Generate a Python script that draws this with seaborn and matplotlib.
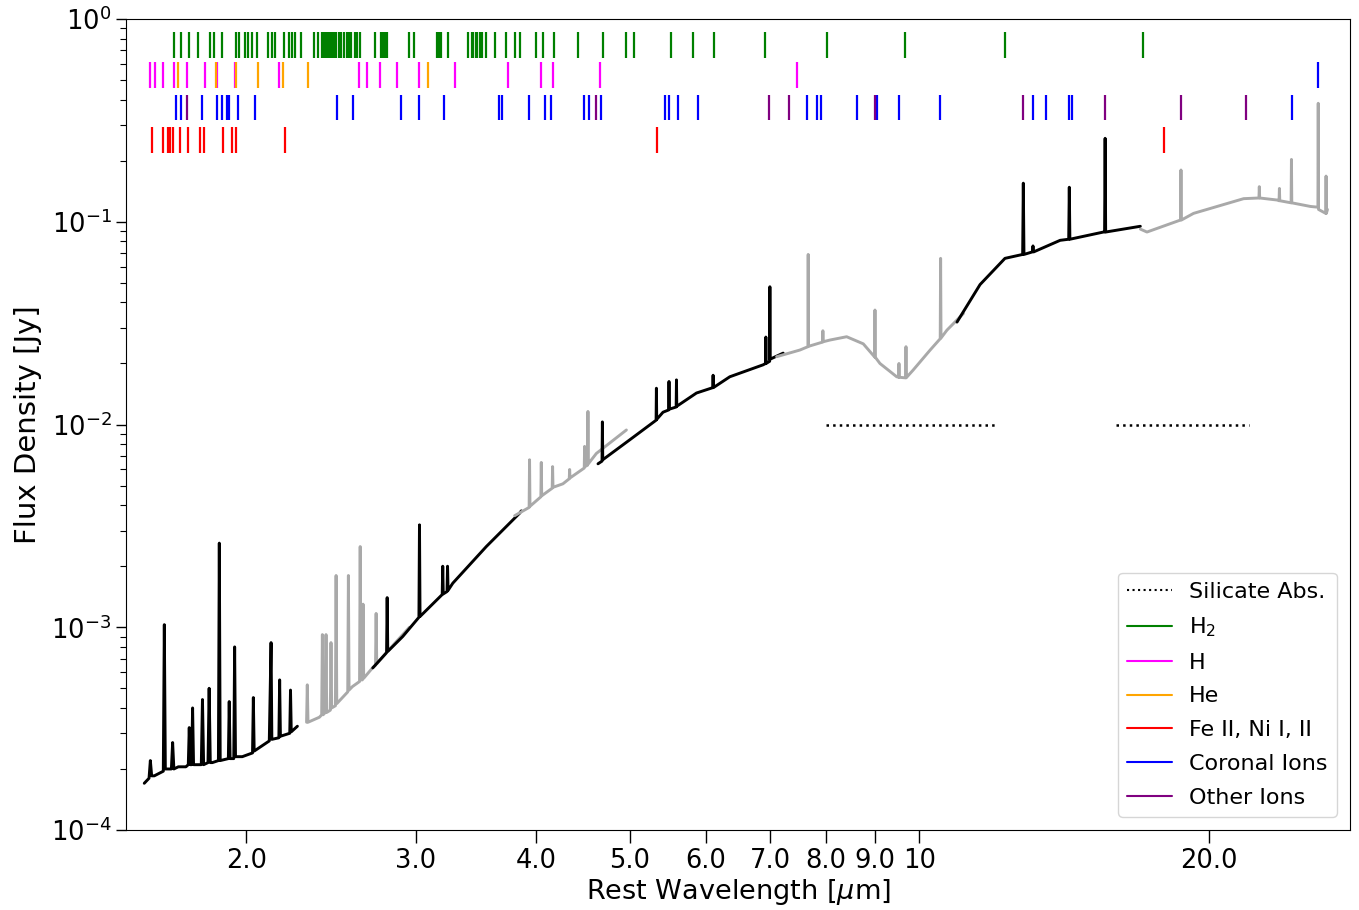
import numpy as np
import pandas as pd
import seaborn as sns
import matplotlib.pyplot as plt
from matplotlib.lines import Line2D
from matplotlib.ticker import FixedLocator, FixedFormatter, NullLocator, LogLocator

sns.set_style("ticks")
plt.rcParams["font.family"] = ["DejaVu Sans"]
plt.rcParams["text.color"] = "black"
plt.rcParams["axes.labelcolor"] = "black"
plt.rcParams["xtick.color"] = "black"
plt.rcParams["ytick.color"] = "black"
plt.rcParams["axes.edgecolor"] = "black"

# spectrum segments (wavelength in um, flux in Jy)
w1 = [1.567, 1.585, 1.590, 1.595, 1.605, 1.640, 1.644, 1.648, 1.672, 1.677, 1.682, 1.700, 1.731,
      1.741, 1.745, 1.749, 1.755, 1.759, 1.763, 1.796, 1.801, 1.806, 1.825, 1.830, 1.835, 1.844,
      1.871, 1.875, 1.879, 1.916, 1.920, 1.924, 1.941, 1.945, 1.949, 1.981, 2.030, 2.034, 2.038,
      2.113, 2.122, 2.126, 2.162, 2.166, 2.170, 2.219, 2.223, 2.227, 2.260]
f1 = [1.70e-4, 1.80e-4, 2.2e-4, 1.85e-4, 1.85e-4, 1.95e-4, 1.03e-3, 2.0e-4, 2.0e-4, 2.7e-4, 2.0e-4, 2.05e-4, 2.05e-4,
      2.1e-4, 3.2e-4, 2.1e-4, 2.1e-4, 4.0e-4, 2.1e-4, 2.1e-4, 4.4e-4, 2.1e-4, 2.15e-4, 5.0e-4, 2.15e-4, 2.15e-4,
      2.2e-4, 2.6e-3, 2.2e-4, 2.25e-4, 4.3e-4, 2.25e-4, 2.25e-4, 8.0e-4, 2.3e-4, 2.3e-4, 2.4e-4, 4.5e-4, 2.45e-4,
      2.75e-4, 8.4e-4, 2.8e-4, 2.85e-4, 5.5e-4, 2.9e-4, 3.0e-4, 4.9e-4, 3.05e-4, 3.25e-4]

w2 = [2.310, 2.314, 2.318, 2.382, 2.395, 2.399, 2.403, 2.416, 2.420, 2.424, 2.445, 2.449, 2.453,
      2.475, 2.479, 2.483, 2.549, 2.553, 2.557, 2.578, 2.622, 2.626, 2.630, 2.640, 2.644, 2.648,
      2.704, 2.724, 2.728, 2.732, 2.850, 2.954]
f2 = [3.4e-4, 5.2e-4, 3.4e-4, 3.6e-4, 3.7e-4, 9.2e-4, 3.7e-4, 3.8e-4, 9.2e-4, 3.8e-4, 3.9e-4, 8.4e-4, 4.0e-4,
      4.1e-4, 1.8e-3, 4.2e-4, 4.8e-4, 1.8e-3, 4.9e-4, 5.1e-4, 5.4e-4, 2.5e-3, 5.5e-4, 5.5e-4, 1.3e-3, 5.6e-4,
      6.3e-4, 6.5e-4, 1.17e-3, 6.6e-4, 8.3e-4, 1.0e-3]

w3 = [2.706, 2.797, 2.801, 2.805, 2.907, 3.022, 3.026, 3.030, 3.195, 3.199, 3.203, 3.232, 3.236, 3.240,
      3.277, 3.550, 3.844, 3.860]
f3 = [6.3e-4, 7.5e-4, 1.4e-3, 7.6e-4, 9.0e-4, 1.12e-3, 3.2e-3, 1.13e-3, 1.45e-3, 2.0e-3, 1.46e-3, 1.5e-3, 2.0e-3, 1.52e-3,
      1.65e-3, 2.5e-3, 3.65e-3, 3.75e-3]

w4 = [3.799, 3.933, 3.937, 3.941, 4.045, 4.049, 4.053, 4.156, 4.160, 4.164, 4.264, 4.329, 4.333, 4.337,
      4.487, 4.491, 4.495, 4.523, 4.527, 4.531, 4.619, 4.963]
f4 = [3.55e-3, 3.9e-3, 6.7e-3, 3.95e-3, 4.4e-3, 6.5e-3, 4.45e-3, 4.85e-3, 6.2e-3, 4.9e-3, 5.1e-3, 5.4e-3, 6.0e-3, 5.45e-3,
      6.1e-3, 7.8e-3, 6.2e-3, 6.3e-3, 1.16e-2, 6.4e-3, 7.2e-3, 9.4e-3]

w5 = [4.637, 4.682, 4.686, 4.690, 5.002, 5.328, 5.332, 5.336, 5.417, 5.491, 5.495, 5.499, 5.590, 5.594, 5.598,
      5.868, 6.102, 6.106, 6.110, 6.355, 6.882, 6.923, 6.927, 6.931, 6.990, 6.994, 6.998, 7.220]
f5 = [6.4e-3, 6.6e-3, 1.03e-2, 6.7e-3, 8.4e-3, 1.05e-2, 1.51e-2, 1.06e-2, 1.15e-2, 1.18e-2, 1.63e-2, 1.19e-2, 1.22e-2, 1.66e-2, 1.23e-2,
      1.43e-2, 1.52e-2, 1.75e-2, 1.52e-2, 1.72e-2, 1.97e-2, 2.0e-2, 2.7e-2, 2.0e-2, 2.05e-2, 4.78e-2, 2.1e-2, 2.25e-2]

w6 = [7.107, 7.514, 7.660, 7.665, 7.670, 7.934, 7.939, 7.944, 8.074, 8.403, 8.744, 8.987, 8.992, 8.997,
      9.100, 9.471, 9.518, 9.523, 9.528, 9.660, 9.679, 9.684, 9.689, 9.855, 10.26, 10.51, 10.52, 10.53,
      10.68, 11.11]
f6 = [2.16e-2, 2.33e-2, 2.42e-2, 6.9e-2, 2.43e-2, 2.55e-2, 2.9e-2, 2.56e-2, 2.61e-2, 2.71e-2, 2.5e-2, 2.15e-2, 3.67e-2, 2.15e-2,
      2.0e-2, 1.72e-2, 1.71e-2, 2.0e-2, 1.71e-2, 1.7e-2, 1.7e-2, 2.42e-2, 1.7e-2, 1.86e-2, 2.33e-2, 2.65e-2, 6.6e-2, 2.67e-2,
      2.92e-2, 3.53e-2]

w7 = [10.94, 11.56, 12.27, 12.80, 12.82, 12.84, 13.10, 13.12, 13.14, 14.00, 14.29, 14.31, 14.33,
      15.53, 15.57, 15.59, 15.61, 16.96]
f7 = [3.2e-2, 4.9e-2, 6.6e-2, 6.9e-2, 0.155, 6.9e-2, 7.1e-2, 7.6e-2, 7.1e-2, 8.1e-2, 8.2e-2, 0.148, 8.2e-2,
      8.9e-2, 8.9e-2, 0.258, 8.9e-2, 9.5e-2]

w8 = [16.96, 17.23, 18.67, 18.69, 18.71, 19.26, 21.71, 22.52, 22.54, 22.56, 23.52, 23.63, 23.65, 23.67,
      24.32, 24.34, 24.36, 25.47, 25.93, 25.95, 25.97, 26.42, 26.44, 26.46, 26.53]
f8 = [9.2e-2, 8.9e-2, 0.102, 0.18, 0.102, 0.11, 0.13, 0.131, 0.149, 0.131, 0.128, 0.127, 0.146, 0.127,
      0.124, 0.203, 0.124, 0.119, 0.118, 0.384, 0.115, 0.11, 0.168, 0.11, 0.115]

seg_colors = ["black", "darkgray", "black", "darkgray", "black", "darkgray", "black", "darkgray"]

# silicate absorption ranges
sil_lo = [8.0, 16.0]
sil_hi = [12.0, 22.0]
sil_level = 1e-2

# line lists (um)
h2_lines = [1.683, 1.712, 1.745, 1.783, 1.835, 1.853, 1.888, 1.953, 1.967, 1.995, 2.010, 2.029, 2.053,
            2.108, 2.128, 2.144, 2.190, 2.217, 2.233, 2.249, 2.281, 2.353, 2.376, 2.399, 2.411, 2.422,
            2.434, 2.445, 2.457, 2.469, 2.481, 2.499, 2.511, 2.529, 2.547, 2.559, 2.571, 2.596, 2.609,
            2.627, 2.723, 2.763, 2.776, 2.789, 2.803, 2.954, 2.990, 3.152, 3.167, 3.189, 3.236, 3.402,
            3.427, 3.443, 3.460, 3.476, 3.493, 3.510, 3.544, 3.621, 3.718, 3.799, 3.844, 3.994, 4.062,
            4.170, 4.417, 4.689, 4.954, 5.050, 5.518, 5.816, 6.116, 6.910, 8.016, 9.660, 12.27, 17.08]
h_lines = [1.588, 1.607, 1.637, 1.681, 1.734, 1.812, 1.863, 1.947, 2.161, 2.617, 2.670, 2.754, 2.869,
           3.021, 3.298, 3.738, 4.049, 4.163, 4.656, 7.455]
he_lines = [1.697, 1.860, 1.951, 2.055, 2.182, 2.316, 3.087]
fe_lines = [1.598, 1.637, 1.657, 1.667, 1.677, 1.708, 1.741, 1.792, 1.809, 1.893, 1.934, 1.953, 2.196,
            5.340, 17.96]
coronal_lines = [1.690, 1.711, 1.799, 1.863, 1.887, 1.910, 1.920, 1.959, 2.044, 2.483, 2.579, 2.896,
                 3.026, 3.205, 3.656, 3.682, 3.931, 4.086, 4.147, 4.484, 4.538, 4.675, 5.439, 5.495,
                 5.615, 5.890, 7.647, 7.821, 7.896, 8.619, 9.029, 9.530, 10.50, 13.12, 13.54, 14.31,
                 14.41, 24.38]
coronal_top = [25.95]
other_lines = [1.735, 4.619, 6.982, 7.324, 8.992, 12.82, 15.59, 18.70, 21.84]

xticks = [2, 3, 4, 5, 6, 7, 8, 9, 10, 20]
xticklabels = ["2.0", "3.0", "4.0", "5.0", "6.0", "7.0", "8.0", "9.0", "10", "20.0"]

# build table for seaborn
segs = [(w1, f1), (w2, f2), (w3, f3), (w4, f4), (w5, f5), (w6, f6), (w7, f7), (w8, f8)]
parts = []
for i, (w, f) in enumerate(segs):
    parts.append(pd.DataFrame({"wave": w, "flux": f, "seg": i}))
spec = pd.concat(parts, ignore_index=True)

fig = plt.figure(figsize=(13.59, 9.10), dpi=100)
ax = fig.add_axes([0.0927, 0.0879, 0.9007, 0.8912])

sns.lineplot(data=spec, x="wave", y="flux", hue="seg", palette=dict(enumerate(seg_colors)),
             estimator=None, sort=False, legend=False, lw=2.1, ax=ax)

for lo, hi in zip(sil_lo, sil_hi):
    ax.plot([lo, hi], [sil_level, sil_level], color="k", ls=":", lw=1.8)

# line markers in rows near the top
trans = ax.get_xaxis_transform()
rows = [(h2_lines, "green", 0.9515, 0.9843),
        (h_lines, "magenta", 0.9146, 0.9473),
        (he_lines, "orange", 0.9146, 0.9473),
        (coronal_top, "blue", 0.9146, 0.9473),
        (coronal_lines, "blue", 0.8755, 0.9063),
        (other_lines, "purple", 0.8755, 0.9063),
        (fe_lines, "red", 0.8351, 0.8672)]
for xs, c, y0, y1 in rows:
    ax.vlines(xs, y0, y1, colors=c, lw=1.6, transform=trans)

ax.set_xscale("log")
ax.set_yscale("log")
ax.set_xlim(1.5, 28)
ax.set_ylim(1e-4, 1)
ax.xaxis.set_major_locator(FixedLocator(xticks))
ax.xaxis.set_major_formatter(FixedFormatter(xticklabels))
ax.xaxis.set_minor_locator(NullLocator())
ax.yaxis.set_minor_locator(LogLocator(base=10, subs=np.arange(2, 10)))

ax.tick_params(axis="x", which="major", length=9, width=1, labelsize=18.5, direction="out", pad=4)
ax.tick_params(axis="y", which="major", length=7, width=1, labelsize=18.5, direction="out")
ax.tick_params(axis="y", which="minor", length=4, width=0.8, direction="out")

ax.set_xlabel(r"Rest Wavelength [$\mu$m]", fontsize=19.5, labelpad=2)
ax.set_ylabel("Flux Density [Jy]", fontsize=21, labelpad=6)

handles = [Line2D([], [], color="k", ls=":", lw=1.5, label="Silicate Abs."),
           Line2D([], [], color="green", lw=1.5, label=r"H$_2$"),
           Line2D([], [], color="magenta", lw=1.5, label="H"),
           Line2D([], [], color="orange", lw=1.5, label="He"),
           Line2D([], [], color="red", lw=1.5, label="Fe II, Ni I, II"),
           Line2D([], [], color="blue", lw=1.5, label="Coronal Ions"),
           Line2D([], [], color="purple", lw=1.5, label="Other Ions")]
ax.legend(handles=handles, loc="lower right", fontsize=16, frameon=True,
          labelspacing=0.62, borderaxespad=0.6)

fig.savefig("out.png", dpi=100)
